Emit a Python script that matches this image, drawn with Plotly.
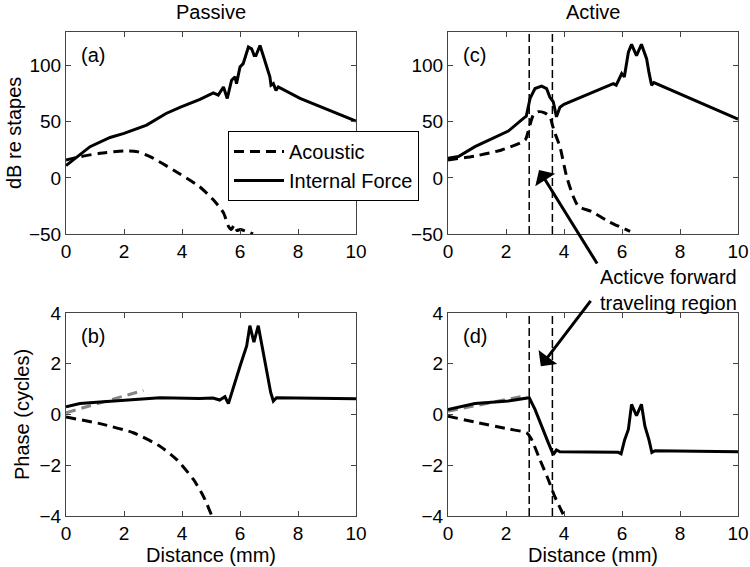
import plotly.graph_objects as go

# ---------------- data ----------------
# Panel (a) Passive, magnitude (dB re stapes)
xa_int = [0, 0.3, 0.83, 1.52, 2.0, 2.78, 3.45, 3.95, 4.62, 5.08, 5.25, 5.43, 5.56, 5.71, 5.83, 5.88,
          6.0, 6.11, 6.29, 6.4, 6.49, 6.55, 6.69, 6.8, 6.92, 7.03, 7.07, 7.15, 7.24, 7.32, 8.07, 10]
ya_int = [11, 17, 27.8, 36, 39.7, 47, 57.4, 63, 69.9, 75.8, 73.7, 81, 70.8, 87, 90, 84,
          98.8, 101.8, 116.6, 115, 109, 109, 118, 109, 100, 90, 82.6, 84, 78, 81, 70.8, 50.6]
xa_ac = [0, 0.5, 1.17, 2.0, 2.45, 2.9, 3.7, 4.6, 5.08, 5.43, 5.6, 5.7, 5.8, 5.9, 6.0, 6.45]
ya_ac = [16, 19, 21.9, 24, 23.4, 19, 7, -7.7, -19.5, -31, -43, -46, -42, -47, -46, -50]

# Panel (c) Active, magnitude
xc_int = [0, 0.36, 0.93, 1.5, 2.08, 2.6, 2.7, 2.83, 3.0, 3.23, 3.4, 3.51, 3.63, 3.74, 3.86, 4.0,
          5.7, 5.8, 5.99, 6.08, 6.22, 6.33, 6.5, 6.67, 6.85, 6.93, 7.02, 7.1, 10]
yc_int = [17.5, 19, 27.8, 35, 41.7, 53, 55, 70.8, 79.6, 81.7, 79.6, 72, 67.8, 54.4, 63, 65.5,
          84, 82.6, 93, 90, 112, 119, 109, 119, 106, 94, 82.6, 85, 52.4]
xc_ac = [0, 0.93, 1.85, 2.66, 2.76, 2.94, 3.1, 3.33, 3.52, 3.6, 3.69, 3.86, 4.09, 4.32, 4.5, 4.95, 5.53, 6.28]
yc_ac = [16, 19.5, 24.9, 33.7, 41, 56, 58.9, 58, 54.4, 47, 39.7, 27.8, 1.2, -16.6, -25.5, -30, -38.8, -47.7]

# Panel (b) Passive, phase (cycles)
xb_int = [0, 0.48, 1.17, 2.0, 3.24, 4.6, 5.07, 5.3, 5.48, 5.6, 5.71, 5.83, 6.0, 6.23, 6.34, 6.48,
          6.63, 6.76, 6.92, 7.06, 7.15, 7.26, 10]
yb_int = [0.3, 0.43, 0.49, 0.57, 0.66, 0.63, 0.65, 0.57, 0.7, 0.43, 0.86, 1.32, 1.9, 2.7, 3.5, 2.85,
          3.5, 2.7, 1.65, 0.86, 0.53, 0.66, 0.62]
xb_ac = [0, 1.17, 2.32, 3.24, 3.82, 4.4, 4.74, 5.03]
yb_ac = [-0.1, -0.36, -0.72, -1.25, -1.78, -2.57, -3.23, -4.0]
xb_gray = [0, 2.67]
yb_gray = [0.07, 0.95]

# Panel (d) Active, phase
xd_int = [0, 0.93, 2.08, 2.71, 2.8, 3.0, 3.22, 3.46, 3.63, 3.74, 3.86, 5.87, 5.97, 6.09, 6.22, 6.33,
          6.5, 6.67, 6.79, 6.93, 7.03, 7.14, 10]
yd_int = [0.2, 0.43, 0.53, 0.63, 0.66, 0.2, -0.46, -1.12, -1.58, -1.4, -1.47, -1.49, -1.55, -1.0, -0.59, 0.4,
          -0.05, 0.4, -0.46, -1.0, -1.5, -1.43, -1.47]
xd_ac = [0, 0.93, 2.08, 2.71, 2.87, 3.17, 3.46, 3.68, 3.98]
yd_ac = [-0.07, -0.3, -0.57, -0.72, -0.96, -1.78, -2.57, -3.23, -3.95]
xd_gray = [0, 2.71]
yd_gray = [0.13, 0.75]

# boundaries of the active forward traveling region
region_x = [2.8, 3.6]

x_ticks = [0, 2, 4, 6, 8, 10]
db_ticks = [-50, 0, 50, 100]
ph_ticks = [-4, -2, 0, 2, 4]

# ---------------- figure ----------------
W, H = 750, 567
FONT = "Liberation Sans, Arial, Helvetica, sans-serif"
LW = 3
DASH = "10px,6px"

def px_x(p):
    return p / W

def px_y(p):
    return 1 - p / H

fig = go.Figure()

def add(x, y, ax, ay, dash=None, color="black", name=None, show=False, spline=False):
    fig.add_trace(go.Scatter(
        x=x, y=y, xaxis=ax, yaxis=ay, mode="lines",
        line=dict(color=color, width=LW, dash=dash if dash else "solid",
                  shape="spline" if spline else "linear", smoothing=0.6),
        name=name, showlegend=show, hoverinfo="skip"))

# (a)
add(xa_ac, ya_ac, "x", "y", dash=DASH, name="Acoustic", show=True, spline=True)
add(xa_int, ya_int, "x", "y", name="Internal Force", show=True)
# (c)
add(xc_ac, yc_ac, "x2", "y2", dash=DASH, spline=True)
add(xc_int, yc_int, "x2", "y2")
# (b)
add(xb_gray, yb_gray, "x3", "y3", dash=DASH, color="#858585")
add(xb_ac, yb_ac, "x3", "y3", dash=DASH, spline=True)
add(xb_int, yb_int, "x3", "y3")
# (d)
add(xd_gray, yd_gray, "x4", "y4", dash=DASH, color="#858585")
add(xd_ac, yd_ac, "x4", "y4", dash=DASH, spline=True)
add(xd_int, yd_int, "x4", "y4")

# vertical region lines
for xr, yr in [("x2", "y2"), ("x4", "y4")]:
    for xv in region_x:
        fig.add_shape(type="line", xref=xr, yref=yr + " domain", x0=xv, x1=xv, y0=0, y1=1,
                      line=dict(color="black", width=1.5, dash="8px,4px"))

left = [px_x(66), px_x(356)]
right = [px_x(448), px_x(738)]
top = [px_y(234), px_y(32)]
bottom = [px_y(516), px_y(313)]

def xax(domain, anchor):
    return dict(domain=domain, anchor=anchor, range=[0, 10], tickvals=x_ticks, automargin=False,
                ticks="inside", ticklen=5, tickcolor="#444", mirror="allticks",
                showline=True, linecolor="#444", linewidth=1, showgrid=False, zeroline=False,
                tickfont=dict(size=19, color="black", family=FONT))

def yax(domain, anchor, rng, tv):
    return dict(domain=domain, anchor=anchor, range=rng, tickvals=tv, automargin=False,
                ticks="inside", ticklen=5, tickcolor="#444", mirror="allticks",
                showline=True, linecolor="#444", linewidth=1, showgrid=False, zeroline=False,
                tickfont=dict(size=19, color="black", family=FONT))

fig.update_layout(
    template="none",
    width=W, height=H, margin=dict(l=0, r=0, t=0, b=0, pad=0), autosize=False,
    paper_bgcolor="white", plot_bgcolor="white",
    font=dict(family=FONT, size=20, color="black"),
    xaxis=xax(left, "y"), yaxis=yax(top, "x", [-50, 130], db_ticks),
    xaxis2=xax(right, "y2"), yaxis2=yax(top, "x2", [-50, 130], db_ticks),
    xaxis3=xax(left, "y3"), yaxis3=yax(bottom, "x3", [-4, 4], ph_ticks),
    xaxis4=xax(right, "y4"), yaxis4=yax(bottom, "x4", [-4, 4], ph_ticks),
    legend=dict(x=px_x(228), y=px_y(131), xanchor="left", yanchor="top",
                bordercolor="black", borderwidth=1, bgcolor="white", itemwidth=50,
                font=dict(size=20, family=FONT), tracegroupgap=0),
    showlegend=True,
)

ann = []
def text(x, y, s, angle=0, xanchor="center", size=20):
    ann.append(dict(xref="paper", yref="paper", x=x, y=y, text=s, showarrow=False,
                    textangle=angle, xanchor=xanchor, yanchor="middle",
                    font=dict(size=size, family=FONT, color="black")))

text(px_x(211), px_y(12), "Passive")
text(px_x(593), px_y(12), "Active")
text(px_x(14), px_y(133), "dB re stapes", angle=-90)
text(px_x(22), px_y(415), "Phase (cycles)", angle=-90)
text(px_x(211), px_y(555), "Distance (mm)")
text(px_x(593), px_y(555), "Distance (mm)")
text(px_x(668), px_y(290), "Acticve forward<br>traveling region")

for lab, xr, yr in [("(a)", "x", "y"), ("(c)", "x2", "y2"), ("(b)", "x3", "y3"), ("(d)", "x4", "y4")]:
    ann.append(dict(xref=xr + " domain", yref=yr + " domain", x=0.045, y=0.885, text=lab,
                    showarrow=False, xanchor="left", yanchor="middle",
                    font=dict(size=20, family=FONT, color="black")))

# arrows
ann.append(dict(xref="x2", yref="y2", x=3.14, y=7, ax=59, ay=95, axref="pixel", ayref="pixel",
                text="", showarrow=True, arrowhead=1, arrowsize=1.3, arrowwidth=3, arrowcolor="black"))
ann.append(dict(xref="x4", yref="y4", x=3.2, y=1.9, ax=51, ay=-67, axref="pixel", ayref="pixel",
                text="", showarrow=True, arrowhead=1, arrowsize=1.3, arrowwidth=3, arrowcolor="black"))

fig.update_layout(annotations=ann)

# remove the default page margin so the 750x567 figure fills the window exactly
fig.write_html("out.html", config={"displayModeBar": False},
               post_script="document.body.style.margin='0px';")
